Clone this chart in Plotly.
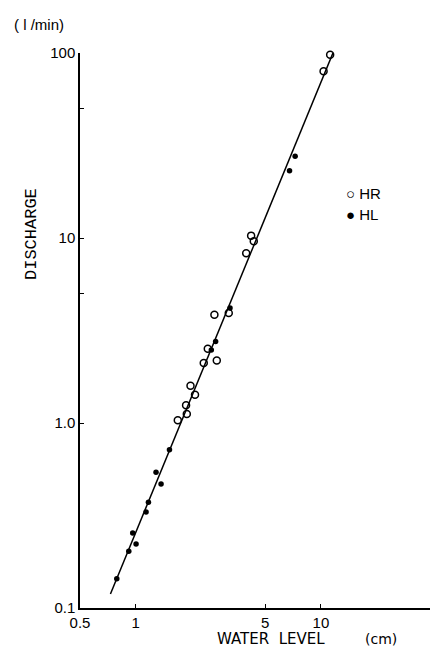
import plotly.graph_objects as go
import math

# HR (open circles): water level (cm), discharge (l/min)
hr_x = [11.22, 10.34, 4.20, 4.34, 3.95, 2.66, 3.18, 2.45, 2.74, 2.33, 1.976, 2.09, 1.87, 1.887, 1.687]
hr_y = [97.9, 79.6, 10.3, 9.6, 8.27, 3.85, 3.93, 2.52, 2.18, 2.11, 1.59, 1.42, 1.246, 1.12, 1.034]

# HL (filled circles)
hl_x = [7.26, 6.77, 3.23, 2.70, 2.56, 1.521, 1.287, 1.370, 1.171, 1.137, 0.963, 1.004, 0.917, 0.790]
hl_y = [27.7, 23.1, 4.18, 2.76, 2.48, 0.717, 0.541, 0.468, 0.373, 0.330, 0.254, 0.222, 0.2025, 0.144]

# regression line end points
fit_x = [0.73, 11.9]
fit_y = [0.119, 106]

x_ticks = [0.5, 1, 5, 10]
x_tick_text = ["0.5", "1", "5", "10"]
y_ticks = [0.1, 1, 10, 100]
y_tick_text = ["0.1", "1.0", "10", "100"]

fig = go.Figure()
fig.add_trace(go.Scatter(x=fit_x, y=fit_y, mode="lines",
                         line=dict(color="black", width=1.5), showlegend=False))
fig.add_trace(go.Scatter(x=hr_x, y=hr_y, mode="markers", name="HR", cliponaxis=False,
                         marker=dict(symbol="circle-open", size=7, color="black",
                                     line=dict(width=1.5, color="black")),
                         showlegend=False))
fig.add_trace(go.Scatter(x=hl_x, y=hl_y, mode="markers", name="HL", cliponaxis=False,
                         marker=dict(symbol="circle", size=5.5, color="black"),
                         showlegend=False))

axis_font = dict(family="Liberation Sans, Arial, sans-serif", size=15, color="black")

fig.update_xaxes(type="log", range=[math.log10(0.5), 1.6757],
                 tickvals=x_ticks, ticktext=x_tick_text, ticks="inside", ticklen=4,
                 tickcolor="black", showline=True, linecolor="black", linewidth=1.5,
                 showgrid=False, zeroline=False, tickfont=axis_font, mirror=False)
fig.update_yaxes(type="log", range=[-1, 2],
                 tickvals=y_ticks + [5, 50], ticktext=y_tick_text + ["", ""],
                 ticks="inside", ticklen=4, tickcolor="black",
                 showline=True, linecolor="black", linewidth=1.5,
                 showgrid=False, zeroline=False, tickfont=axis_font)

W, H = 438, 648
L, R, T, B = 72, 0, 45, 48
pw, ph = W - L - R, H - T - B

fig.update_layout(
    width=W, height=H,
    margin=dict(l=L, r=R, t=T, b=B),
    plot_bgcolor="white", paper_bgcolor="white",
    showlegend=False,
)

def px(xp):
    return (xp - L) / pw

def py(yp):
    return (H - B - yp) / ph

fig.add_annotation(text="( l /min)", x=px(4), y=py(16), xref="paper", yref="paper",
                   showarrow=False, xanchor="left", yanchor="middle",
                   font=dict(family="Liberation Sans, Arial, sans-serif", size=15, color="black"))
fig.add_annotation(text="DISCHARGE", x=px(23), y=py(226), xref="paper", yref="paper",
                   showarrow=False, textangle=-90, xanchor="center", yanchor="middle",
                   font=dict(family="Liberation Mono, monospace", size=17, color="black"))
fig.add_annotation(text="WATER  LEVEL", x=px(263), y=py(631), xref="paper", yref="paper",
                   showarrow=False, xanchor="center", yanchor="middle",
                   font=dict(family="DejaVu Sans, sans-serif", size=15, color="black"))
fig.add_annotation(text="(cm)", x=px(373), y=py(631), xref="paper", yref="paper",
                   showarrow=False, xanchor="center", yanchor="middle",
                   font=dict(family="DejaVu Sans, sans-serif", size=14, color="black"))
fig.add_annotation(text="○ HR", x=px(336), y=py(186), xref="paper", yref="paper",
                   showarrow=False, xanchor="left", yanchor="middle",
                   font=dict(family="Liberation Sans, Arial, sans-serif", size=15, color="black"))
fig.add_annotation(text="● HL", x=px(336), y=py(206), xref="paper", yref="paper",
                   showarrow=False, xanchor="left", yanchor="middle",
                   font=dict(family="Liberation Sans, Arial, sans-serif", size=15, color="black"))

fig.write_html("out.html")
